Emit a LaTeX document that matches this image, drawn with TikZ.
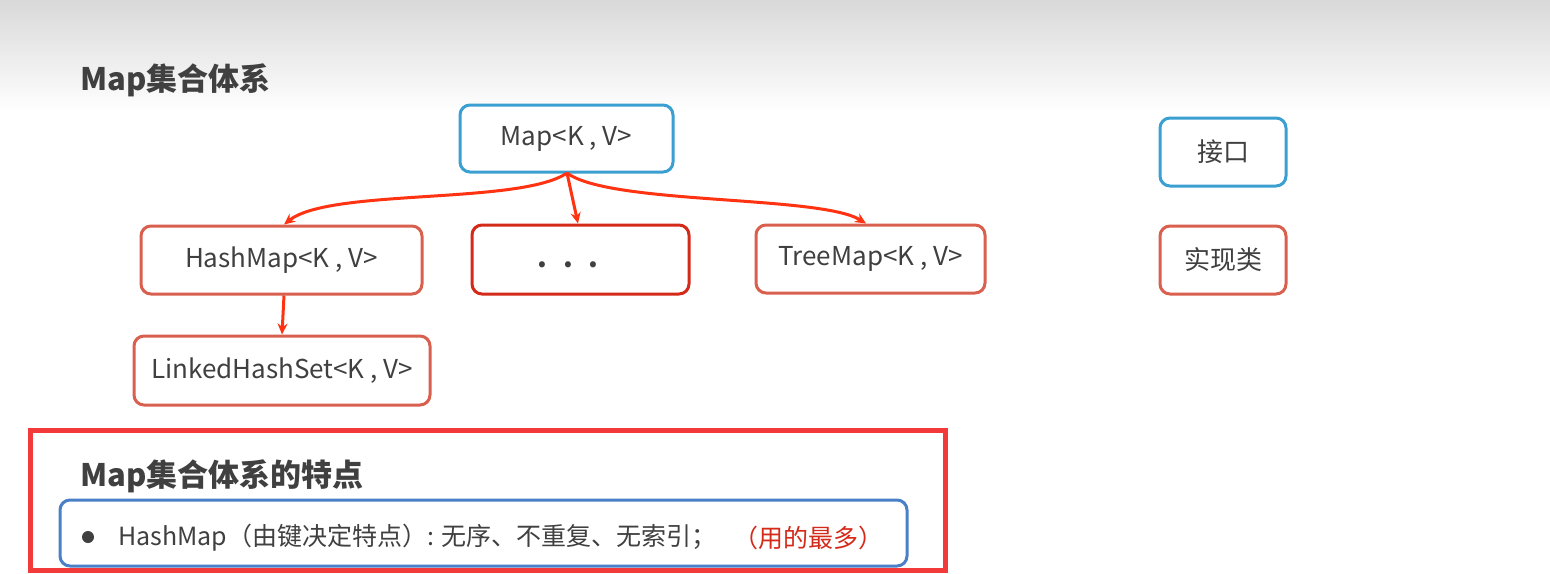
\documentclass[tikz,border=0pt]{standalone}
\usepackage{fontspec}
\setmainfont{Noto Sans CJK SC}
\usetikzlibrary{arrows.meta}
\definecolor{ifblue}{HTML}{3B9FD1}
\definecolor{implred}{HTML}{D9604F}
\definecolor{dotred}{HTML}{D42A1A}
\definecolor{arrred}{HTML}{FF3311}
\definecolor{boxred}{HTML}{F23A3A}
\definecolor{noteblue}{HTML}{4A80C8}
\definecolor{txt}{HTML}{404040}
\tikzset{
  base/.style={rounded corners=10pt, line width=3pt, fill=white, text=txt, font=\fontsize{26}{30}\selectfont, inner sep=0pt},
  iface/.style={base, draw=ifblue},
  impl/.style={base, draw=implred},
  conn/.style={draw=arrred, line width=3pt, -{Stealth[length=11pt,width=10pt]}},
  heading/.style={text=txt, font=\fontsize{31}{36}\selectfont\bfseries, anchor=west, inner sep=0pt},
}
\begin{document}
\begin{tikzpicture}[x=1pt,y=-1pt]
\useasboundingbox (0,0) rectangle (1550,573);
\fill[white] (0,0) rectangle (1550,573);
\shade[top color=black!15, bottom color=white] (0,0) rectangle (1550,112);
\node[heading] (title) at (80,80) {Map集合体系};
\node[iface, minimum width=213pt, minimum height=67pt] (map) at (566.5,138.5) {Map<K , V>};
\node[iface, minimum width=126pt, minimum height=68pt] (jk) at (1223,152) {接口};
\node[impl, minimum width=281pt, minimum height=68pt] (hm) at (281.5,260) {HashMap<K , V>};
\node[base, draw=dotred, minimum width=217pt, minimum height=69pt] (dots) at (580.5,259.5) {};
\node[txt, inner sep=0pt, font=\fontsize{28}{30}\selectfont\bfseries] (dotstxt) at (568,265) {.\hspace{16pt}.\hspace{16pt}.};
\node[impl, minimum width=229pt, minimum height=68pt] (tm) at (870.5,259) {TreeMap<K , V>};
\node[impl, minimum width=126pt, minimum height=68pt] (sx) at (1223,260) {实现类};
\node[impl, minimum width=296pt, minimum height=69pt] (lhs) at (282,370.5) {LinkedHashSet<K , V>};
\coordinate (ms) at (567,173);
\draw[conn] (ms) .. controls (520,205) and (330,188) .. (hm.north -| 284,0);
\draw[conn] (ms) -- (dots.north -| 578,0);
\draw[conn] (ms) .. controls (610,205) and (820,195) .. (tm.north -| 866,0);
\draw[conn] (hm.south -| 284,0) -- (lhs.north -| 282,0);
\node[draw=boxred, line width=5pt, minimum width=915pt, minimum height=140pt, inner sep=0pt] (frame) at (487.5,500) {};
\node[heading] (sub) at (80,476) {Map集合体系的特点};
\node[draw=noteblue, line width=3pt, rounded corners=10pt, fill=white, minimum width=847pt, minimum height=66pt, inner sep=0pt] (note) at (483.5,533) {};
\fill[txt] (88,537) circle (6pt);
\node[anchor=west, inner sep=0pt, text=txt, font=\fontsize{25}{28}\selectfont] (t1) at (118,538) {HashMap（由键决定特点）: 无序、不重复、无索引；};
\node[anchor=west, inner sep=0pt, text=dotred, font=\fontsize{25}{28}\selectfont] (t2) at (733,538) {（用的最多）};
\end{tikzpicture}
\end{document}
